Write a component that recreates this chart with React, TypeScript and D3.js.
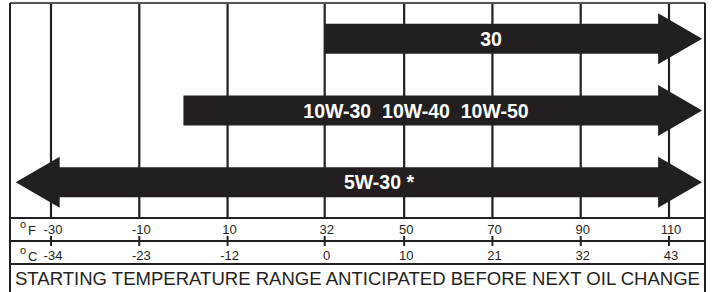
import React from "react";
import * as d3 from "d3";

// oil grades, top to bottom, with the lowest starting temperature (°F) of each
const grades = ["30", "10W-30  10W-40  10W-50", "5W-30 *"];
const lowTempF = [32, 0, -38];
const openLow = [false, false, true]; // arrow pointing left = no lower limit
const highTempF = 117.5; // every grade runs off the right side

const fTicks = [-30, -10, 10, 32, 50, 70, 90, 110];
const cTicks = [-34, -23, -12, 0, 10, 21, 32, 43];
const caption = "STARTING TEMPERATURE RANGE ANTICIPATED BEFORE NEXT OIL CHANGE";

const W = 713;
const H = 292;
const ink = "#231f20";

const App = () => {
  const x = d3.scaleLinear().domain([-30, 110]).range([51, 669]);
  const left = 10;
  const right = 705;
  const top = 3;
  const gridBottom = 218;
  const fRow = 241;
  const cRow = 264;

  const y = d3.scaleBand().domain(grades).range([top, gridBottom]);

  const head = 44; // arrowhead length
  const bodyH = 15;
  const headH = 25.5;

  const arrowPath = (i: number) => {
    const g = grades[i];
    const cy = y(g)! + y.bandwidth() / 2;
    const x1 = x(highTempF);
    const x0 = x(lowTempF[i]);
    const p = d3.path();
    if (openLow[i]) {
      p.moveTo(x0, cy);
      p.lineTo(x0 + head, cy - headH);
      p.lineTo(x0 + head, cy - bodyH);
    } else {
      p.moveTo(x0, cy - bodyH);
    }
    p.lineTo(x1 - head, cy - bodyH);
    p.lineTo(x1 - head, cy - headH);
    p.lineTo(x1, cy);
    p.lineTo(x1 - head, cy + headH);
    p.lineTo(x1 - head, cy + bodyH);
    if (openLow[i]) {
      p.lineTo(x0 + head, cy + bodyH);
      p.lineTo(x0 + head, cy + headH);
    } else {
      p.lineTo(x0, cy + bodyH);
    }
    p.closePath();
    return p.toString();
  };

  const labelX = [491, 416, 379];

  return (
    <svg width={W} height={H} style={{ position: "absolute", left: 0, top: 0 }}>
      <rect width={W} height={H} fill="#fff" />
      {/* grid lines */}
      {fTicks.map((t) => (
        <line key={t} x1={x(t)} x2={x(t)} y1={top} y2={gridBottom} stroke={ink} strokeWidth={2.2} />
      ))}
      {/* frame */}
      <line x1={left} x2={right} y1={top} y2={top} stroke="#555" strokeWidth={2} />
      <line x1={left} x2={left} y1={top} y2={H} stroke={ink} strokeWidth={2} />
      <line x1={right} x2={right} y1={top} y2={H} stroke={ink} strokeWidth={2} />
      {[gridBottom, fRow, cRow].map((yy) => (
        <line key={yy} x1={left} x2={right} y1={yy} y2={yy} stroke={ink} strokeWidth={2.2} />
      ))}
      {/* arrows */}
      {grades.map((g, i) => (
        <g key={g}>
          <path d={arrowPath(i)} fill={ink} />
          <text
            x={labelX[i]}
            y={y(g)! + y.bandwidth() / 2 + 7}
            textAnchor="middle"
            fill="#fff"
            fontFamily="'Liberation Sans', Arial, sans-serif"
            fontWeight="bold"
            fontSize={19.5}
            style={{ whiteSpace: "pre" }}
          >
            {g}
          </text>
        </g>
      ))}
      {/* scale rows */}
      {fTicks.map((t) => (
        <line key={"tk" + t} x1={x(t)} x2={x(t)} y1={236} y2={246} stroke={ink} strokeWidth={2} />
      ))}
      <g fontFamily="'Liberation Sans', Arial, sans-serif" fontSize={13} fill={ink}>
        {fTicks.map((t) => (
          <text key={"f" + t} x={x(t) + 2} y={234} textAnchor="middle">
            {t}
          </text>
        ))}
        {cTicks.map((t, i) => (
          <text key={"c" + t} x={x(fTicks[i]) + 2} y={260} textAnchor="middle">
            {t}
          </text>
        ))}
        <text x={20} y={228} fontSize={11}>o</text>
        <text x={28} y={235}>F</text>
        <text x={20} y={254} fontSize={11}>o</text>
        <text x={28} y={261}>C</text>
      </g>
      <text
        x={15}
        y={285}
        textLength={685}
        lengthAdjust="spacingAndGlyphs"
        fontFamily="'Liberation Sans', Arial, sans-serif"
        fontSize={18.4}
        fill={ink}
      >
        {caption}
      </text>
    </svg>
  );
};

export default App;
